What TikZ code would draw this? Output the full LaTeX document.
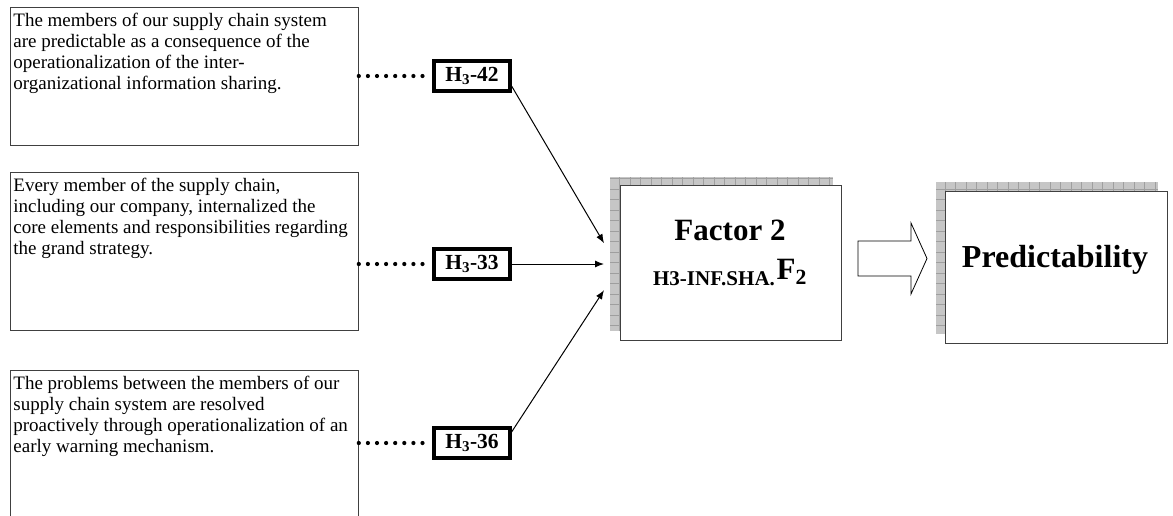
\documentclass[tikz,border=0pt]{standalone}
\usepackage{fontspec}
\setmainfont{Liberation Serif}
\usetikzlibrary{arrows.meta,positioning}

\begin{document}
\begin{tikzpicture}[x=1pt, y=-1pt,
  item/.style={draw=black!75, line width=0.8pt, anchor=north west, inner xsep=3pt, inner ysep=5.5pt, font=\fontsize{19}{21}\selectfont},
  tag/.style={draw, line width=3.2pt, minimum width=76pt, minimum height=30pt, inner sep=2pt, font=\fontsize{21.5}{23}\selectfont\bfseries},
  link/.style={line width=4.2pt, line cap=round, dash pattern=on 0pt off 9.1pt, shorten >=2.5pt},
  arrow/.style={-{Latex[length=9pt,width=7pt]}, line width=1pt},
  backing/.style={fill=gray!45, anchor=north west, inner sep=0pt},
  hatch/.style={gray!75, line width=0.5pt, step=10.5pt},
  card/.style={draw=black!75, line width=0.8pt, fill=white, anchor=north west, inner sep=0pt},
  title/.style={anchor=base, inner sep=0pt, font=\bfseries},
]
  \useasboundingbox (0,0) rectangle (1173,515);

  % statements
  \node[item] (q1) at (10,7) {\parbox[t][127pt][t]{342pt}{The members of our supply chain system\\
    are predictable as a consequence of the\\operationalization of the inter-\\organizational information sharing.}};
  \node[item] (q2) at (10,172) {\parbox[t][147pt][t]{342pt}{Every member of the supply chain,\\
    including our company, internalized the\\core elements and responsibilities regarding\\the grand strategy.}};
  \node[item] (q3) at (10,370) {\parbox[t][160pt][t]{342pt}{The problems between the members of our\\
    supply chain system are resolved\\proactively through operationalization of an\\early warning mechanism.}};

  % item codes
  \node[tag] (t1) at (472,76) {H\textsubscript{3}-42};
  \node[tag] (t2) at (472,264) {H\textsubscript{3}-33};
  \node[tag] (t3) at (472,443) {H\textsubscript{3}-36};

  \draw[link] (q1.east |- t1.west) -- (t1.west);
  \draw[link] (q2.east |- t2.west) -- (t2.west);
  \draw[link] (q3.east |- t3.west) -- (t3.west);

  % factor box
  \node[backing, minimum width=223pt, minimum height=154pt] (f2s) at (610,177) {};
  \draw[hatch] (f2s.north west) grid (f2s.south east);
  \node[card, minimum width=221pt, minimum height=155pt] (f2) at (620,185) {};
  \node[title, font=\fontsize{31}{33}\selectfont\bfseries] (f2a) at (730,240) {Factor 2};
  \node[title] (f2b) at (730,285) {{\fontsize{21}{23}\selectfont H3-INF.SHA.}\,\raisebox{6pt}{\fontsize{31}{33}\selectfont F\textsubscript{2}}};

  \draw[arrow] ([yshift=-10pt]t1.east) -- ([xshift=-6pt,yshift=11pt]f2s.west);
  \draw[arrow] (t2.east) -- ([xshift=-6pt]f2s.west |- t2.east);
  \draw[arrow] ([yshift=11pt]t3.east) -- ([xshift=-6pt,yshift=-36pt]f2s.west);

  % outcome
  \coordinate (go) at (892.5,258.5);
  \draw[line width=0.8pt, fill=white] (go) ++(-34.5,-17.5) -- ++(53,0) -- ++(0,-18) -- ++(16,35.5)
    -- ++(-16,35.5) -- ++(0,-18) -- ++(-53,0) -- cycle;
  \node[backing, minimum width=222pt, minimum height=152pt] (ps) at (936,182) {};
  \draw[hatch] (ps.north west) grid (ps.south east);
  \node[card, minimum width=222pt, minimum height=152pt] (pr) at (945,191) {};
  \node[title, font=\fontsize{32}{34}\selectfont\bfseries] (prt) at (1055,267) {Predictability};
\end{tikzpicture}
\end{document}
